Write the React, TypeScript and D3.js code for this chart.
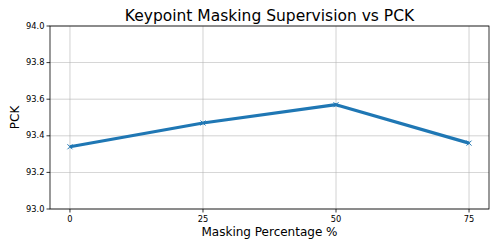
import * as d3 from "d3";

const maskingPercent = [0, 25, 50, 75];
const pckValues = [93.34, 93.47, 93.57, 93.36];
const yTickValues = [93.0, 93.2, 93.4, 93.6, 93.8, 94.0];

const width = 498;
const height = 249;
const margin = { top: 26, right: 9, bottom: 40, left: 50 };

export default function App() {
	const innerWidth = width - margin.left - margin.right;
	const innerHeight = height - margin.top - margin.bottom;

	const xScale = d3.scaleLinear().domain([-3.75, 78.75]).range([0, innerWidth]);
	const yScale = d3.scaleLinear().domain([93.0, 94.0]).range([innerHeight, 0]);

	const points = maskingPercent.map((x, i) => ({ x, y: pckValues[i] }));

	const line = d3
		.line<{ x: number; y: number }>()
		.x((d) => xScale(d.x))
		.y((d) => yScale(d.y));

	const font = "'DejaVu Sans', sans-serif";

	return (
		<svg
			width={width}
			height={height}
			style={{ position: "absolute", left: 0, top: 0, background: "#fff" }}
			fontFamily={font}
		>
			<g transform={`translate(${margin.left},${margin.top})`}>
				{/* grid */}
				{maskingPercent.map((t) => (
					<line
						key={`gx${t}`}
						x1={xScale(t)}
						x2={xScale(t)}
						y1={0}
						y2={innerHeight}
						stroke="#b0b0b0"
						strokeWidth={0.8}
						opacity={0.7}
					/>
				))}
				{yTickValues.map((t) => (
					<line
						key={`gy${t}`}
						x1={0}
						x2={innerWidth}
						y1={yScale(t)}
						y2={yScale(t)}
						stroke="#b0b0b0"
						strokeWidth={0.8}
						opacity={0.7}
					/>
				))}

				{/* line */}
				<path
					d={line(points) ?? ""}
					fill="none"
					stroke="#1f77b4"
					strokeWidth={3.2}
					strokeLinejoin="round"
					strokeLinecap="butt"
				/>
				{points.map((p) => (
					<path
						key={p.x}
						d="M-2.5,-2.5L2.5,2.5M-2.5,2.5L2.5,-2.5"
						transform={`translate(${xScale(p.x)},${yScale(p.y)})`}
						stroke="#1f77b4"
						strokeWidth={1}
					/>
				))}

				{/* spines */}
				<rect
					x={0}
					y={0}
					width={innerWidth}
					height={innerHeight}
					fill="none"
					stroke="#000"
					strokeWidth={0.8}
				/>

				{/* y ticks */}
				{yTickValues.map((t) => (
					<g key={`ty${t}`} transform={`translate(0,${yScale(t)})`}>
						<line x1={-3.5} x2={0} stroke="#000" strokeWidth={0.8} />
						<text x={-5.5} dy="0.32em" textAnchor="end" fontSize={8.3}>
							{t.toFixed(1)}
						</text>
					</g>
				))}

				{/* x ticks */}
				{maskingPercent.map((t) => (
					<g key={`tx${t}`} transform={`translate(${xScale(t)},${innerHeight})`}>
						<line y1={0} y2={3.5} stroke="#000" strokeWidth={0.8} />
						<text y={13} textAnchor="middle" fontSize={8.3}>
							{t}
						</text>
					</g>
				))}

				{/* labels */}
				<text
					x={innerWidth / 2}
					y={-5}
					textAnchor="middle"
					fontSize={15.5}
				>
					Keypoint Masking Supervision vs PCK
				</text>
				<text
					x={innerWidth / 2}
					y={innerHeight + 27}
					textAnchor="middle"
					fontSize={12}
				>
					Masking Percentage %
				</text>
				<text
					transform={`translate(${-31},${innerHeight / 2}) rotate(-90)`}
					textAnchor="middle"
					fontSize={12}
				>
					PCK
				</text>
			</g>
		</svg>
	);
}
